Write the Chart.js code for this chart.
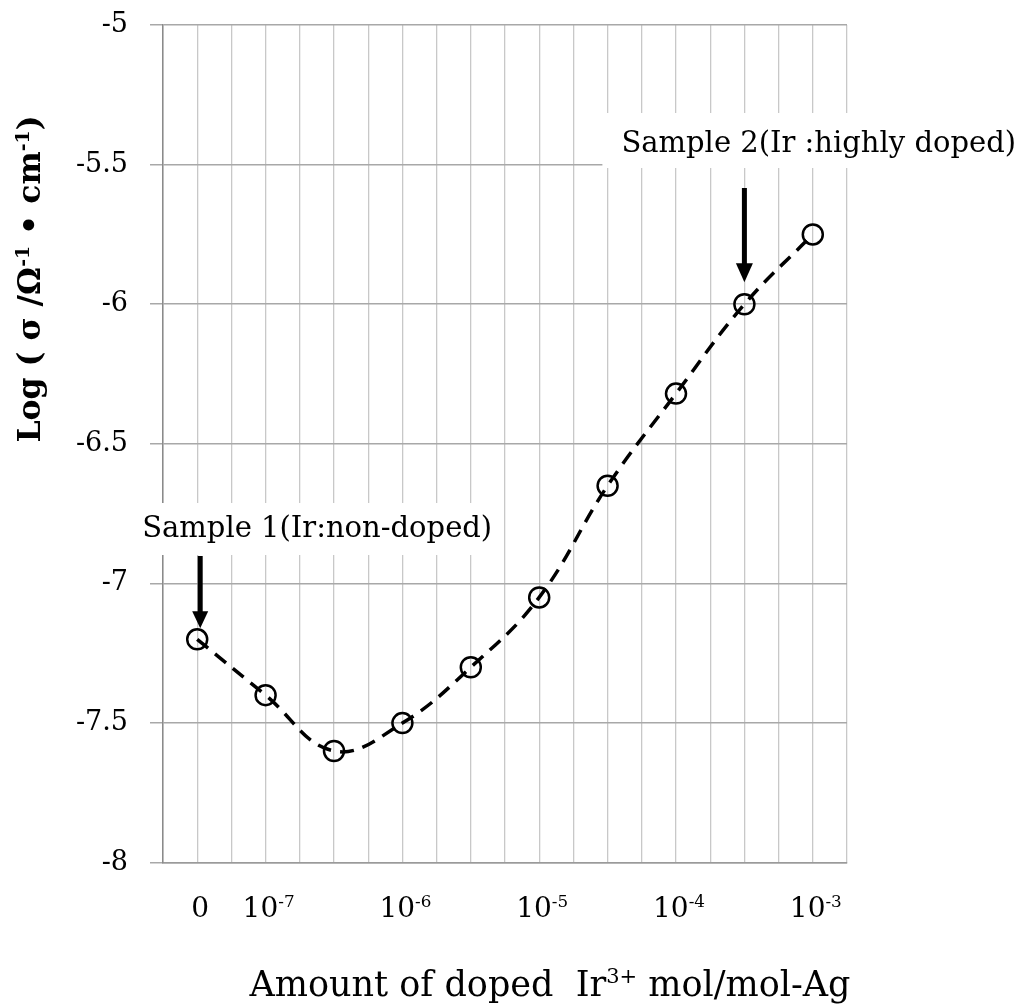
<!DOCTYPE html>
<html>
<head>
<meta charset="utf-8">
<script src="https://cdn.jsdelivr.net/npm/chart.js@4.4.0/dist/chart.umd.min.js"></script>
<style>
  html, body { margin: 0; padding: 0; background: #ffffff; }
  #wrap { width: 1017px; height: 1006px; position: relative; }
</style>
</head>
<body>
<div id="wrap"><canvas id="c" width="1017" height="1006"></canvas></div>
<script>
// ---- data ----
const categories   = ['0', '1e-7', '3e-7', '1e-6', '3e-6', '1e-5', '3e-5', '1e-4', '3e-4', '1e-3'];
const logSigma     = [-7.2, -7.4, -7.6, -7.5, -7.3, -7.05, -6.65, -6.32, -6.0, -5.75];
const xTickLabels  = ['0', '10^-7', '', '10^-6', '', '10^-5', '', '10^-4', '', '10^-3'];
const yMin = -8, yMax = -5, yStep = 0.5;
const annotations = [
  { index: 0, text: 'Sample 1(Ir:non-doped)' },
  { index: 8, text: 'Sample 2(Ir :highly doped)' }
];

const SERIF = '"DejaVu Serif", "Liberation Serif", serif';
// each category sits on every other vertical grid line
const points = logSigma.map((v, i) => ({ x: 2 * i + 1, y: v }));

function drawRich(ctx, segs, x, y, size, weight) {
  // segs: [{t, sup}] ; drawn centered at x, baseline y
  const supSize = size * 0.6;
  let total = 0;
  const widths = segs.map(s => {
    ctx.font = weight + ' ' + (s.sup ? supSize : size) + 'px ' + SERIF;
    const w = ctx.measureText(s.t).width;
    total += w;
    return w;
  });
  let cx = x - total / 2;
  ctx.textAlign = 'left';
  ctx.textBaseline = 'alphabetic';
  segs.forEach((s, i) => {
    ctx.font = weight + ' ' + (s.sup ? supSize : size) + 'px ' + SERIF;
    ctx.fillText(s.t, cx, s.sup ? y - size * 0.36 : y);
    cx += widths[i];
  });
}

const decorPlugin = {
  id: 'decor',
  beforeDatasetsDraw(chart) {
    const ctx = chart.ctx;
    const xs = chart.scales.x;
    ctx.save();
    ctx.font = '29px ' + SERIF;
    const a1 = annotations[0], a2 = annotations[1];
    const p1x = xs.getPixelForValue(points[a1.index].x);
    const p2x = xs.getPixelForValue(points[a2.index].x);
    ctx.fillStyle = '#ffffff';
    ctx.fillRect(p1x - 62, 503, 364, 52);
    ctx.fillRect(p2x - 142, 113, 420, 55);
    ctx.fillStyle = '#000000';
    ctx.textBaseline = 'alphabetic';
    ctx.textAlign = 'left';
    ctx.fillText(a1.text, p1x - 55, 537);
    ctx.fillText(a2.text, p2x - 123, 152);
    ctx.restore();
  },
  afterDatasetsDraw(chart) {
    const ctx = chart.ctx;
    const xs = chart.scales.x, ys = chart.scales.y;
    ctx.save();
    ctx.fillStyle = '#000000';
    ctx.strokeStyle = '#000000';
    function arrow(x, y0, y1, headW, headH) {
      ctx.lineWidth = 5;
      ctx.beginPath();
      ctx.moveTo(x, y0);
      ctx.lineTo(x, y1 - headH + 1);
      ctx.stroke();
      ctx.beginPath();
      ctx.moveTo(x - headW / 2, y1 - headH);
      ctx.lineTo(x + headW / 2, y1 - headH);
      ctx.lineTo(x, y1);
      ctx.closePath();
      ctx.fill();
    }
    annotations.forEach((a, k) => {
      const px = xs.getPixelForValue(points[a.index].x);
      const py = ys.getPixelForValue(points[a.index].y);
      if (k === 0) arrow(px + 3, 556, py - 11, 16, 17);
      else arrow(px, 188, py - 22, 17, 19);
    });
    ctx.restore();
  },
  afterDraw(chart) {
    const ctx = chart.ctx;
    const xs = chart.scales.x;
    // x tick labels with superscript exponents
    ctx.save();
    ctx.fillStyle = '#000000';
    xTickLabels.forEach((lab, i) => {
      if (!lab) return;
      const px = xs.getPixelForValue(points[i].x);
      const parts = lab.split('^');
      const segs = [{ t: parts[0] }];
      if (parts[1]) segs.push({ t: parts[1], sup: true });
      drawRich(ctx, segs, px + 3, 917, 28, 'normal');
    });
    ctx.restore();
    // y axis title (rotated)
    ctx.save();
    ctx.fillStyle = '#000000';
    ctx.translate(40, 279);
    ctx.rotate(-Math.PI / 2);
    drawRich(ctx, [
      { t: 'Log ( σ /Ω' }, { t: '-1', sup: true }, { t: ' • cm' }, { t: '-1', sup: true }, { t: ')' }
    ], 0, 0, 31.5, 'bold');
    ctx.restore();
    // x axis title
    ctx.save();
    ctx.fillStyle = '#000000';
    drawRich(ctx, [
      { t: 'Amount of doped  Ir' }, { t: '3+', sup: true }, { t: ' mol/mol-Ag' }
    ], 550, 996, 35, 'normal');
    ctx.restore();
  }
};

new Chart(document.getElementById('c'), {
  type: 'line',
  data: {
    datasets: [{
      label: 'log sigma',
      data: points,
      borderColor: '#000000',
      borderWidth: 3.5,
      borderDash: [14, 9],
      tension: 0.4,
      pointRadius: 10,
      pointHoverRadius: 10,
      pointBorderWidth: 2.5,
      pointBorderColor: '#000000',
      pointBackgroundColor: 'rgba(0,0,0,0)',
      fill: false
    }]
  },
  options: {
    responsive: false,
    animation: false,
    events: [],
    layout: { padding: { top: 25, right: 170, left: 0, bottom: 0 } },
    plugins: { legend: { display: false }, tooltip: { enabled: false }, title: { display: false } },
    scales: {
      x: {
        type: 'linear',
        min: 0,
        max: 2 * categories.length,
        afterFit(scale) { scale.height = 143.3; scale.paddingLeft = 0; scale.paddingRight = 0; },
        afterBuildTicks(scale) {
          const t = [];
          for (let v = 0; v <= 2 * categories.length; v++) t.push({ value: v });
          scale.ticks = t;
        },
        ticks: { display: false, autoSkip: false, maxRotation: 0 },
        grid: { color: '#c8c8c8', lineWidth: 1.3, drawTicks: false },
        border: { color: '#9a9a9a', width: 1.5 }
      },
      y: {
        min: yMin,
        max: yMax,
        afterFit(scale) { scale.width = 163; scale.paddingTop = 0; scale.paddingBottom = 0; },
        ticks: {
          stepSize: yStep,
          padding: 22,
          color: '#000000',
          font: { family: SERIF, size: 27 },
          callback(v) { return String(v); }
        },
        grid: { color: '#a8a8a8', lineWidth: 1.5, tickLength: 13 },
        border: { color: '#8a8a8a', width: 1.5 }
      }
    }
  },
  plugins: [decorPlugin]
});
</script>
</body>
</html>
